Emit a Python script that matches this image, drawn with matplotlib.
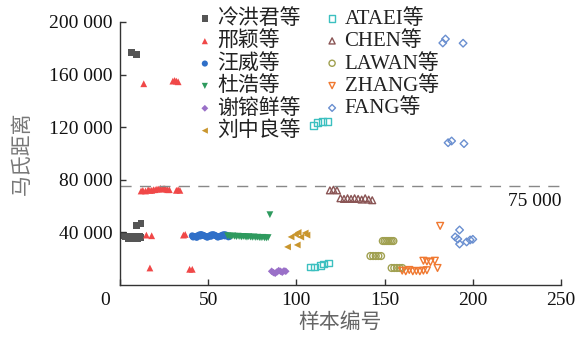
import matplotlib
matplotlib.use("Agg")
import matplotlib.pyplot as plt
from matplotlib.ticker import FuncFormatter

plt.rcParams['font.family'] = ['Liberation Serif', 'Noto Sans CJK SC']

# ---- data ----
leng_x = [1, 2, 3, 4, 5, 6, 7, 8, 9, 10, 11, 12, 9.5, 12, 6.5, 9.5]
leng_y = [38000, 37500, 36500, 37000, 35500, 36000, 37000, 35000, 36500, 35000, 37000, 36000,
          45500, 47000, 177000, 175000]

xing_x = [13.5, 30, 31, 32, 33,
          12, 13, 14.5, 16, 17, 18, 19, 20, 21, 22, 23, 24, 25, 26, 27, 28, 32, 33, 34,
          15, 18, 36, 37,
          17, 39.5, 41]
xing_y = [153000, 155000, 155500, 155000, 154500,
          71500, 72000, 71500, 72500, 72000, 72000, 72500, 72500, 73000, 73000, 73500, 73000, 73500, 73000, 72500, 72500, 72000, 72500, 72000,
          38000, 37500, 38000, 38500,
          13000, 12000, 12000]

wang_x = [41, 42, 43, 44, 45, 46, 47, 48, 49, 50, 51, 52, 53, 54, 55, 56, 57, 58, 59, 60, 61, 62,
          41.5, 43.5, 45.5, 47.5, 49.5, 51.5, 53.5, 55.5, 57.5, 59.5, 61.5]
wang_y = [37500, 37000, 36800, 37500, 38200, 38500, 38000, 37300, 36800, 36900, 37600, 38300, 38400, 37800, 37000, 36800, 37300, 38000, 38400, 38200, 37600, 37000,
          36500, 36200, 37200, 37600, 36300, 37000, 37800, 36400, 37100, 37300, 36600]

du_x = [61, 62, 63, 64, 65, 66, 67, 68, 69, 70, 71, 72, 73, 74, 75, 76, 77, 78, 79, 80, 81, 82, 83, 84, 85]
du_y = [37500, 37300, 37000, 37400, 37100, 36800, 37200, 36900, 36600, 37000, 36700, 36400, 36800, 36500, 36300, 36600, 36200, 36400, 36100, 36000, 36300, 35900, 35800, 36100, 53500]

xie_x = [86, 87, 88, 89, 90, 91, 92, 93, 94]
xie_y = [10500, 9500, 9000, 10000, 11000, 10500, 9800, 10800, 10500]

liu_x = [97, 99.5, 102.5, 105, 95, 100.5, 101, 106]
liu_y = [36600, 38500, 36500, 39600, 29000, 30500, 40000, 38000]

ataei_x = [109.5, 112, 115, 117.5, 108, 110.5, 113.5, 115.5, 118]
ataei_y = [121000, 123500, 124200, 124500, 13700, 13700, 15200, 16000, 16800]

chen_x = [119, 121, 123, 125, 127, 129, 131, 133, 135, 137, 139, 141, 143]
chen_y = [72000, 72500, 72000, 66000, 65500, 66000, 65500, 66000, 65500, 65000, 66000, 65000, 64500]

lawan_x = [149, 150, 151, 152, 153, 154, 155, 142, 143.5, 145, 146.5, 148, 154, 155.5, 157, 158.5, 160]
lawan_y = [33500, 33500, 33500, 33500, 33500, 33500, 33500, 22100, 22100, 22100, 22100, 22100, 13000, 13000, 13000, 13000, 13000]

zhang_x = [181.5, 172, 174, 176, 178.5, 180, 160, 162, 164, 166, 168, 170, 172, 174]
zhang_y = [45000, 18500, 18000, 17500, 18500, 13000, 11000, 10500, 11500, 10500, 10800, 10500, 11000, 11300]

fang_x = [183, 184.5, 194.5, 186, 188, 195, 192.5, 190, 191.5, 192.5, 196.5, 198.5, 200]
fang_y = [184000, 187000, 183800, 108200, 109500, 107500, 41900, 36600, 35000, 31200, 32800, 34300, 34800]

series = [
    ("冷洪君等", leng_x, leng_y, 's', '#555555', True),
    ("邢颖等", xing_x, xing_y, '^', '#f04848', True),
    ("汪威等", wang_x, wang_y, 'o', '#2f6fc8', True),
    ("杜浩等", du_x, du_y, 'v', '#2e9a5e', True),
    ("谢镕鲜等", xie_x, xie_y, 'D', '#9a70c8', True),
    ("刘中良等", liu_x, liu_y, '<', '#c9962e', True),
    ("ATAEI等", ataei_x, ataei_y, 's', '#3cc0c0', False),
    ("CHEN等", chen_x, chen_y, '^', '#8a5555', False),
    ("LAWAN等", lawan_x, lawan_y, 'o', '#a0a050', False),
    ("ZHANG等", zhang_x, zhang_y, 'v', '#f07830', False),
    ("FANG等", fang_x, fang_y, 'D', '#6a8fd0', False),
]
threshold = 75000

fig = plt.figure(figsize=(5.85, 3.37), dpi=100)
ax = fig.add_axes([0.205, 0.154, 0.754, 0.781])

for name, xs, ys, m, c, filled in series:
    s = 24 if m != 'D' else 15
    if filled:
        ax.scatter(xs, ys, marker=m, s=s, color=c, edgecolors='none', label=name)
    else:
        ax.scatter(xs, ys, marker=m, s=s, facecolors='none', edgecolors=c, linewidths=1.0, label=name)

ax.axhline(threshold, color='#888888', lw=1.0, linestyle=(0, (8, 6)))
ax.annotate("75 000", xy=(1.0, threshold), xycoords=('axes fraction', 'data'),
            xytext=(0, -5), textcoords='offset points', ha='right', va='top', fontsize=14, color='#111111')

ax.set_xlim(0, 250)
ax.set_ylim(0, 200000)
ax.set_xticks([0, 50, 100, 150, 200, 250])
ax.set_xticklabels(['', '50', '100', '150', '200', '250'])
ax.set_yticks([40000, 80000, 120000, 160000, 200000])
ax.yaxis.set_major_formatter(FuncFormatter(lambda v, p: f"{int(v):,}".replace(",", " ")))
ax.tick_params(direction='in', length=4, width=1, labelsize=14, colors='#333333', labelcolor='#111111')
ax.tick_params(axis='y', pad=5)
ax.tick_params(axis='x', pad=5)
for sp in ['top', 'right']:
    ax.spines[sp].set_visible(False)
for sp in ['left', 'bottom']:
    ax.spines[sp].set_color('#333333')
    ax.spines[sp].set_linewidth(1.0)

ax.annotate("0", xy=(0, 0), xycoords='data', xytext=(-11, -5), textcoords='offset points',
            ha='center', va='top', fontsize=14, color='#111111', annotation_clip=False)

ax.set_xlabel("样本编号", fontsize=15, color='#666666', labelpad=3)
ax.set_ylabel("马氏距离", fontsize=15, color='#777777', labelpad=12)

leg = ax.legend(ncol=2, loc='upper left', bbox_to_anchor=(0.15, 1.08), frameon=False,
                fontsize=15, handletextpad=0.1, columnspacing=1.0, labelspacing=0.12,
                handlelength=1.0, borderaxespad=0, markerscale=0.9)
for t in leg.get_texts():
    t.set_color('#222222')

fig.savefig("out.png", dpi=100)
